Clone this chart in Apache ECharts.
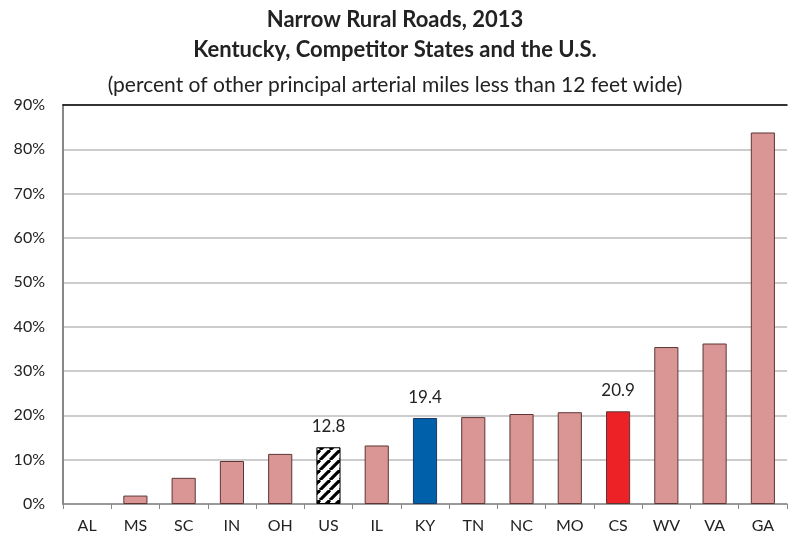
<!DOCTYPE html>
<html><head><meta charset="utf-8">
<script src="https://cdn.jsdelivr.net/npm/echarts@6/dist/echarts.min.js"></script>
<style>html,body{margin:0;padding:0;background:#fff}#c{width:790px;height:542px}</style>
</head><body><div id="c"></div>
<script>
const categories = ['AL','MS','SC','IN','OH','US','IL','KY','TN','NC','MO','CS','WV','VA','GA'];
const values = [0, 1.9, 5.9, 9.7, 11.3, 12.8, 13.2, 19.4, 19.6, 20.3, 20.7, 20.9, 35.4, 36.2, 83.8];
const labelled = ['US','KY','CS'];
const yTicks = [0,10,20,30,40,50,60,70,80,90];

// hatch pattern for US
const pc = document.createElement('canvas');
pc.width = 10; pc.height = 10;
const g = pc.getContext('2d');
g.fillStyle = '#fff'; g.fillRect(0,0,10,10);
g.strokeStyle = '#000'; g.lineWidth = 3.2;
for (let o = -10; o <= 20; o += 10) { g.beginPath(); g.moveTo(o, 10); g.lineTo(o + 10, 0); g.stroke(); }

const colorFor = c => c === 'KY' ? '#0060a9' : c === 'CS' ? '#ec2227' : c === 'US' ? {image: pc, repeat: 'repeat'} : '#d99694';
const borderFor = c => c === 'KY' ? '#1c3a66' : c === 'US' ? '#000' : '#5e3535';

const chart = echarts.init(document.getElementById('c'));
chart.setOption({
  animation: false,
  textStyle: {fontFamily: 'Lato'},
  title: [
    {text: 'Narrow Rural Roads, 2013', left: 'center', top: 4, textStyle: {fontFamily: 'Lato', fontSize: 22, fontWeight: 'bold', color: '#222'}},
    {text: 'Kentucky, Competitor States and the U.S.', left: 'center', top: 34, textStyle: {fontFamily: 'Lato', fontSize: 22, fontWeight: 'bold', color: '#222'}},
    {text: '(percent of other principal arterial miles less than 12 feet wide)', left: 'center', top: 70, textStyle: {fontFamily: 'Lato', fontSize: 21, fontWeight: 'normal', color: '#222'}}
  ],
  grid: {left: 63, right: 3, top: 105, bottom: 38},
  xAxis: [{
    type: 'category', data: categories,
    axisLine: {lineStyle: {color: '#888', width: 1.5}},
    axisTick: {show: true, length: 5, lineStyle: {color: '#888'}},
    axisLabel: {color: '#222', fontSize: 16, margin: 14}
  }, {
    type: 'category', data: categories, position: 'top',
    axisLine: {show: true, lineStyle: {color: '#000', width: 1.5}},
    axisTick: {show: false}, axisLabel: {show: false}
  }],
  yAxis: {
    type: 'value', min: 0, max: 90, interval: 10,
    axisLine: {show: true, lineStyle: {color: '#888', width: 2}},
    axisTick: {show: false},
    splitLine: {lineStyle: {color: '#bbb', width: 1.5}},
    axisLabel: {color: '#222', fontSize: 16, margin: 18, formatter: v => yTicks.includes(v) ? v + '%' : ''}
  },
  series: [{
    type: 'bar', barWidth: '50%',
    data: values.map((v, i) => ({
      value: v,
      itemStyle: {color: colorFor(categories[i]), borderColor: borderFor(categories[i]), borderWidth: v > 0 ? 1 : 0},
      label: {show: labelled.includes(categories[i]), position: 'top', distance: 12, color: '#222', fontSize: 17, formatter: p => p.value.toFixed(1)}
    }))
  }]
});
</script></body></html>
